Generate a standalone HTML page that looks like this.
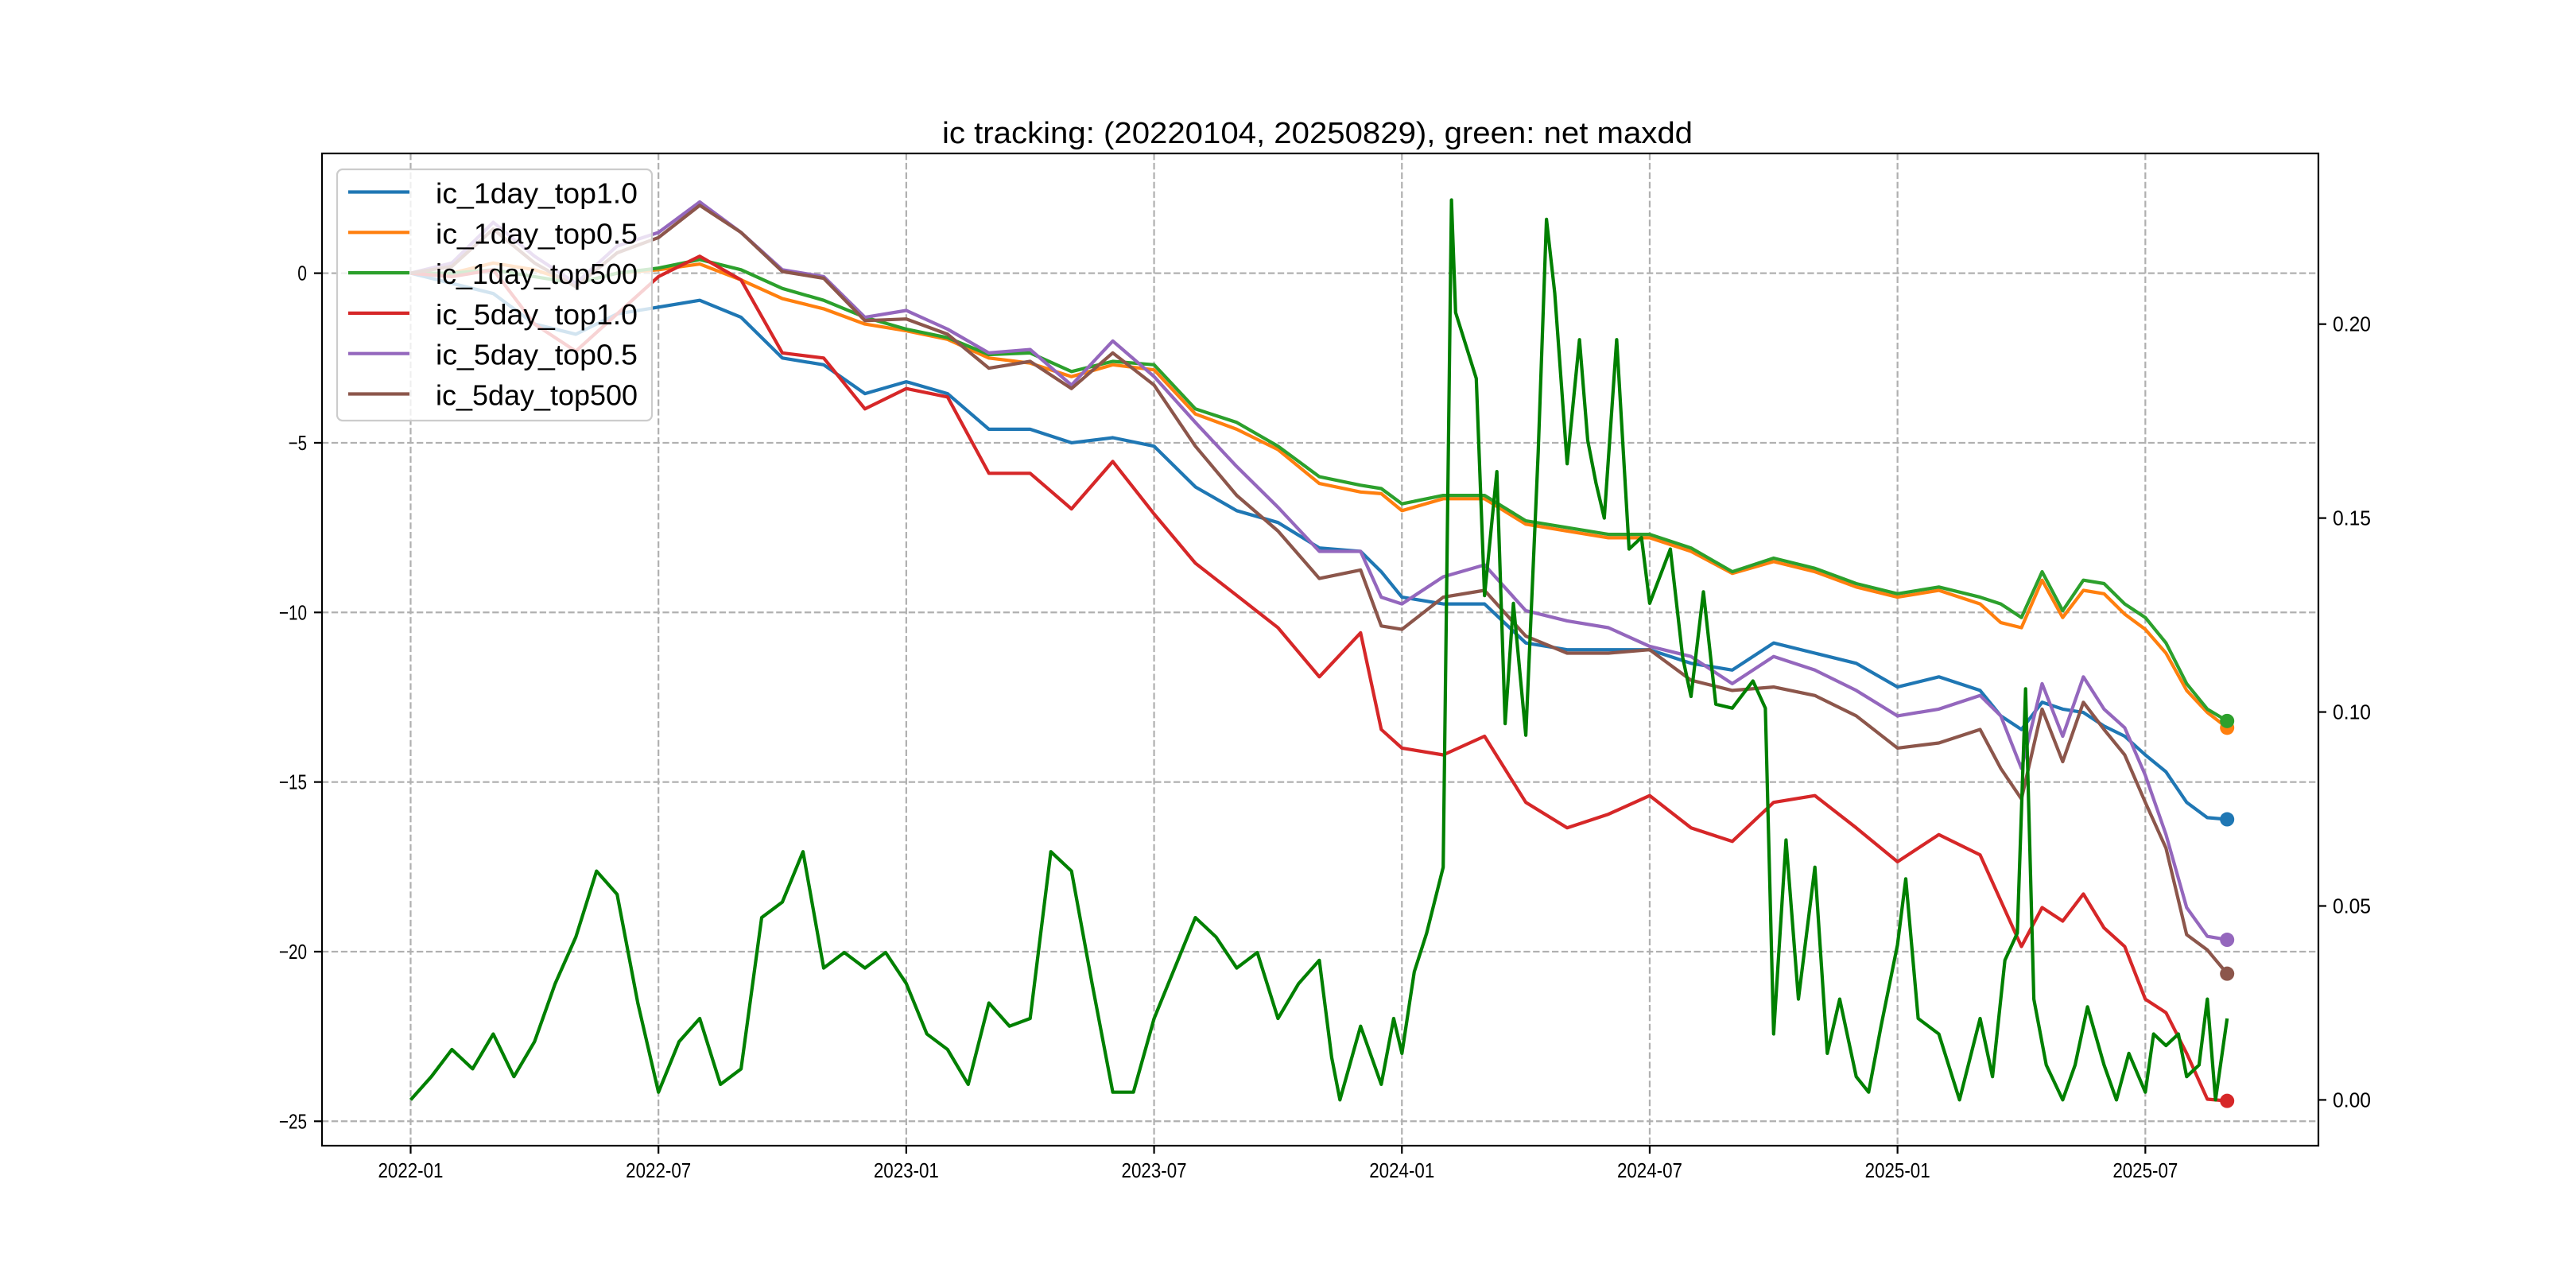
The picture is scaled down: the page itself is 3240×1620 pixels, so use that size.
<!DOCTYPE html>
<html><head><meta charset="utf-8"><style>
html,body{margin:0;padding:0;background:#fff;}
svg{display:block;}
text{font-family:"Liberation Sans","WenQuanYi Zen Hei",sans-serif;fill:#000;}
</style></head><body>
<svg id="chart" xmlns="http://www.w3.org/2000/svg" width="3240" height="1620" viewBox="0 0 3240 1620">
<rect x="0" y="0" width="3240" height="1620" fill="#fff"/>
<g id="grid"></g>
<g id="series"></g>
<g id="axes"></g>
<text x="1185" y="180" font-size="38" textLength="944" lengthAdjust="spacingAndGlyphs">ic tracking: (20220104, 20250829), green: net maxdd</text>
<g id="legend"></g>
</svg>
<script>
// months since 2022-01-01
const months = [0,1,2,3,4,5,6,7,8,9,10,11,12,13,14,15,16,17,18,19,20,21,22,23,23.5,24,25,26,27,28,29,30,31,32,33,34,35,36,37,38,38.5,39,39.5,40,40.5,41,41.5,42,42.5,43,43.5,43.98];
const ic1dTop10 = [0,-0.3,-0.6,-1.5,-1.8,-1.2,-1.0,-0.8,-1.3,-2.5,-2.7,-3.55,-3.2,-3.55,-4.6,-4.6,-5.0,-4.85,-5.1,-6.3,-7.0,-7.35,-8.1,-8.2,-8.8,-9.55,-9.75,-9.75,-10.9,-11.1,-11.1,-11.1,-11.5,-11.7,-10.9,-11.2,-11.5,-12.2,-11.9,-12.3,-13.05,-13.45,-12.65,-12.85,-12.95,-13.35,-13.65,-14.2,-14.7,-15.6,-16.05,-16.1];
const ic1dTop05 = [0,0,0.3,0.1,-0.3,0,0.1,0.27,-0.2,-0.75,-1.05,-1.5,-1.7,-1.95,-2.5,-2.65,-3.05,-2.7,-2.85,-4.15,-4.6,-5.2,-6.2,-6.45,-6.5,-7.0,-6.65,-6.65,-7.4,-7.6,-7.8,-7.8,-8.2,-8.85,-8.5,-8.8,-9.25,-9.55,-9.35,-9.75,-10.3,-10.45,-9.05,-10.15,-9.35,-9.45,-10.05,-10.5,-11.2,-12.3,-12.95,-13.4];
const ic1dTop500 = [0,0,0.1,-0.1,-0.3,0,0.15,0.4,0.1,-0.45,-0.8,-1.3,-1.65,-1.9,-2.4,-2.35,-2.9,-2.6,-2.7,-4.0,-4.4,-5.1,-6.0,-6.25,-6.35,-6.8,-6.55,-6.55,-7.3,-7.5,-7.7,-7.7,-8.1,-8.8,-8.4,-8.7,-9.15,-9.45,-9.25,-9.55,-9.75,-10.15,-8.8,-9.95,-9.05,-9.15,-9.75,-10.15,-10.9,-12.1,-12.85,-13.2];
const ic5dTop10 = [0,-0.1,0.1,-1.5,-2.3,-1.2,-0.1,0.5,-0.2,-2.35,-2.5,-4.0,-3.4,-3.65,-5.9,-5.9,-6.95,-5.55,-7.1,-8.55,-9.5,-10.45,-11.9,-10.6,-13.45,-14.0,-14.2,-13.65,-15.6,-16.35,-15.95,-15.4,-16.35,-16.75,-15.6,-15.4,-16.35,-17.35,-16.55,-17.15,-18.5,-19.85,-18.7,-19.1,-18.3,-19.3,-19.85,-21.4,-21.8,-23.0,-24.35,-24.4];
const ic5dTop05 = [0,0.3,1.5,0.5,-0.3,0.8,1.2,2.1,1.2,0.1,-0.1,-1.3,-1.1,-1.65,-2.35,-2.25,-3.3,-2.0,-3.05,-4.4,-5.7,-6.9,-8.2,-8.2,-9.55,-9.75,-8.95,-8.6,-9.95,-10.25,-10.45,-11.0,-11.3,-12.1,-11.3,-11.7,-12.3,-13.05,-12.85,-12.45,-13.05,-14.6,-12.1,-13.65,-11.9,-12.85,-13.4,-14.8,-16.55,-18.7,-19.55,-19.65];
const ic5dTop500 = [0,0.2,1.3,0.3,-0.4,0.6,1.05,2.0,1.2,0.05,-0.15,-1.4,-1.35,-1.8,-2.8,-2.6,-3.4,-2.35,-3.3,-5.1,-6.55,-7.6,-9.0,-8.75,-10.4,-10.5,-9.55,-9.35,-10.7,-11.2,-11.2,-11.1,-12.0,-12.3,-12.2,-12.45,-13.05,-14.0,-13.85,-13.45,-14.6,-15.5,-12.85,-14.4,-12.65,-13.45,-14.2,-15.6,-16.95,-19.5,-19.95,-20.65];
const seriesNames = ["ic_1day_top1.0","ic_1day_top0.5","ic_1day_top500","ic_5day_top1.0","ic_5day_top0.5","ic_5day_top500"];
const maxddMonths = [0,0.5,1,1.5,2,2.5,3,3.5,4,4.5,5,5.5,6,6.5,7,7.5,8,8.5,9,9.5,10,10.5,11,11.5,12,12.5,13,13.5,14,14.5,15,15.5,16,16.5,17,17.5,18,18.5,19,19.5,20,20.5,21,21.5,22,22.3,22.5,23,23.5,23.8,24,24.3,24.6,25,25.2,25.3,25.8,26,26.3,26.5,26.7,27,27.3,27.5,27.7,28,28.3,28.5,28.7,28.9,29.2,29.5,29.8,30,30.5,30.8,31,31.3,31.6,32,32.5,32.8,33,33.3,33.6,34,34.3,34.6,35,35.3,35.6,36,36.2,36.5,37,37.5,38,38.3,38.6,38.9,39.1,39.3,39.6,40,40.3,40.6,41,41.3,41.6,42,42.2,42.5,42.8,43,43.3,43.5,43.7,43.98];
const maxdd = [0,0.006,0.013,0.008,0.017,0.006,0.015,0.030,0.042,0.059,0.053,0.025,0.002,0.015,0.021,0.004,0.008,0.047,0.051,0.064,0.034,0.038,0.034,0.038,0.030,0.017,0.013,0.004,0.025,0.019,0.021,0.064,0.059,0.030,0.002,0.002,0.021,0.034,0.047,0.042,0.034,0.038,0.021,0.030,0.036,0.011,0.0,0.019,0.004,0.021,0.012,0.033,0.043,0.060,0.232,0.203,0.186,0.13,0.162,0.097,0.128,0.094,0.167,0.227,0.208,0.164,0.196,0.17,0.159,0.15,0.196,0.142,0.145,0.128,0.142,0.114,0.104,0.131,0.102,0.101,0.108,0.101,0.017,0.067,0.026,0.06,0.012,0.026,0.006,0.002,0.019,0.04,0.057,0.021,0.017,0.0,0.021,0.006,0.036,0.043,0.106,0.026,0.009,0.0,0.009,0.024,0.009,0.0,0.012,0.002,0.017,0.014,0.017,0.006,0.009,0.026,0.0,0.021];
const leftTicks = [0,-5,-10,-15,-20,-25];
const rightTicks = [0,0.05,0.10,0.15,0.20];
const rightTickLabels = ["0.00","0.05","0.10","0.15","0.20"];
const xTicks = [0,6,12,18,24,30,36,42];
const xTickLabels = ["2022-01","2022-07","2023-01","2023-07","2024-01","2024-07","2025-01","2025-07"];

const NS = "http://www.w3.org/2000/svg";
const L = 405, R = 2916, T = 193, B = 1441;
const xMin = -2.146, xMax = 46.19;
const yMin = -25.72, yMax = 3.53;
const rMin = -0.0118, rMax = 0.244;
const xs = m => L + (m - xMin) / (xMax - xMin) * (R - L);
const yl = v => B - (v - yMin) / (yMax - yMin) * (B - T);
const yr = v => B - (v - rMin) / (rMax - rMin) * (B - T);
function mk(tag, attrs, parent) {
  const e = document.createElementNS(NS, tag);
  for (const k in attrs) e.setAttribute(k, attrs[k]);
  parent.appendChild(e);
  return e;
}
const grid = document.getElementById('grid');
const sg = document.getElementById('series');
const ax = document.getElementById('axes');
const lg = document.getElementById('legend');

xTicks.forEach((m, i) => {
  const g = mk('line', {x1: xs(m), x2: xs(m), y1: T, y2: B, stroke: '#b0b0b0', 'stroke-width': 2.2, 'stroke-dasharray': '8.3,3.6'}, grid);
  
  
  const t = mk('line', {x1: xs(m), x2: xs(m), y1: B, y2: B + 10, stroke: '#000', 'stroke-width': 2.2}, ax);
  
  
  const lb = mk('text', {x: xs(m), y: 1481, 'font-size': 26, 'text-anchor': 'middle', textLength: 82, lengthAdjust: 'spacingAndGlyphs'}, ax);
  lb.textContent = xTickLabels[i];
  
  
});
leftTicks.forEach(v => {
  const g = mk('line', {x1: L, x2: R, y1: yl(v), y2: yl(v), stroke: '#b0b0b0', 'stroke-width': 2.2, 'stroke-dasharray': '8.3,3.6'}, grid);
  
  
  const t = mk('line', {x1: L - 10, x2: L, y1: yl(v), y2: yl(v), stroke: '#000', 'stroke-width': 2.2}, ax);
  
  
  const s = String(v).replace('-', '\u2212');
  const lb = mk('text', {x: 386, y: yl(v) + 9, 'font-size': 26, 'text-anchor': 'end', textLength: s.length * 11.7, lengthAdjust: 'spacingAndGlyphs'}, ax);
  lb.textContent = s;
  
  
});
rightTicks.forEach((v, i) => {
  const t = mk('line', {x1: R, x2: R + 10, y1: yr(v), y2: yr(v), stroke: '#000', 'stroke-width': 2.2}, ax);
  
  
  const lb = mk('text', {x: 2934, y: yr(v) + 9, 'font-size': 26, textLength: 48, lengthAdjust: 'spacingAndGlyphs'}, ax);
  lb.textContent = rightTickLabels[i];
  
  
});

const colors = ['#1f77b4', '#ff7f0e', '#2ca02c', '#d62728', '#9467bd', '#8c564b'];
const allSeries = [ic1dTop10, ic1dTop05, ic1dTop500, ic5dTop10, ic5dTop05, ic5dTop500];
const keys = ['ic-1day-top1-0', 'ic-1day-top0-5', 'ic-1day-top500', 'ic-5day-top1-0', 'ic-5day-top0-5', 'ic-5day-top500'];
allSeries.forEach((arr, i) => {
  const d = arr.map((v, j) => (j ? 'L' : 'M') + xs(months[j]).toFixed(1) + ',' + yl(v).toFixed(1)).join('');
  const p = mk('path', {d: d, fill: 'none', stroke: colors[i], 'stroke-width': 4.2, 'stroke-linejoin': 'round'}, sg);
  
  
});
const md = maxdd.map((v, j) => (j ? 'L' : 'M') + xs(maxddMonths[j]).toFixed(1) + ',' + yr(v).toFixed(1)).join('');
const mp = mk('path', {d: md, fill: 'none', stroke: '#008000', 'stroke-width': 4.2, 'stroke-linejoin': 'round'}, sg);


[0, 1, 3, 4, 5, 2].forEach(i => {
  const arr = allSeries[i];
  const n = arr.length - 1;
  const c = mk('circle', {cx: xs(months[n]), cy: yl(arr[n]), r: 9, fill: colors[i]}, sg);
  
  
});

const frame = mk('rect', {x: L, y: T, width: R - L, height: B - T, fill: 'none', stroke: '#000', 'stroke-width': 2.2}, ax);



const box = mk('rect', {x: 424, y: 213, width: 396, height: 316, rx: 7, fill: '#fff', 'fill-opacity': 0.8, stroke: '#cccccc', 'stroke-width': 2.2}, lg);


seriesNames.forEach((nm, i) => {
  const y = 241.5 + i * 50.8;
  const g = mk('g', {}, lg);
  
  
  const ln = mk('line', {x1: 438, x2: 515, y1: y, y2: y, stroke: colors[i], 'stroke-width': 4.2}, g);
  
  
  const t = mk('text', {x: 548, y: y + 14, 'font-size': 36, textLength: 254, lengthAdjust: 'spacingAndGlyphs'}, g);
  t.textContent = nm;
  
  
});
</script>
</body></html>
